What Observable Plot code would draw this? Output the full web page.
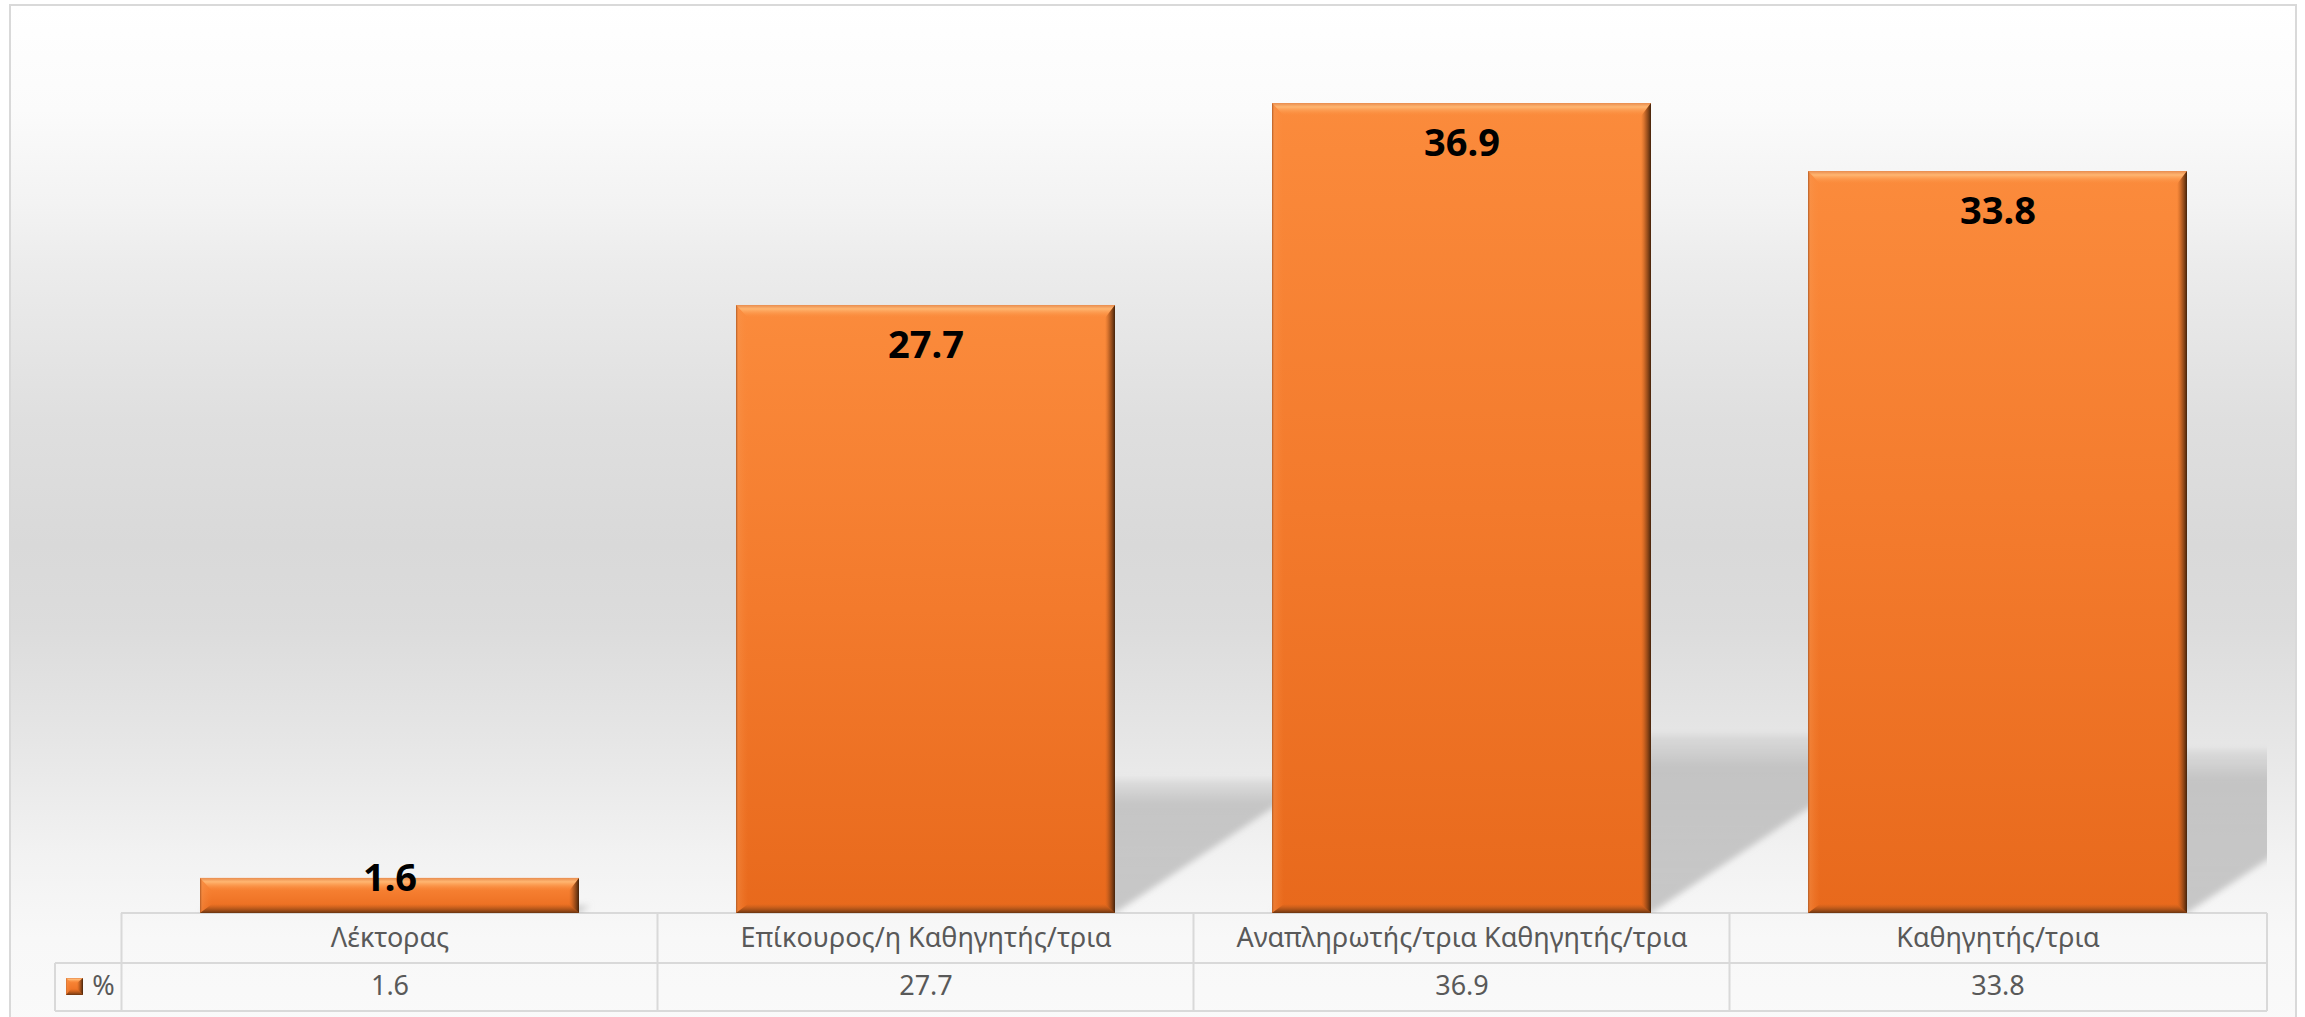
<!DOCTYPE html>
<html>
<head>
<meta charset="utf-8">
<script src="https://cdn.jsdelivr.net/npm/d3@7"></script>
<script src="https://cdn.jsdelivr.net/npm/@observablehq/plot@0.6"></script>
<style>
  html, body { margin: 0; padding: 0; background: #ffffff; }
  #wrap { position: relative; width: 2305px; height: 1017px; overflow: hidden; }
  #bg {
    position: absolute; left: 9px; top: 4px; width: 2288px; height: 1040px;
    box-sizing: border-box; border: 2px solid #d9d9d9;
    background: linear-gradient(to bottom, #ffffff 0%, #fbfbfb 10%, #f3f3f3 19%, #ececec 25%, #dfdfdf 40%, #d9d9d9 52%, #dcdcdc 60%, #e6e6e6 71%, #f2f2f2 82%, #f8f8f8 90%, #fafafa 100%);
  }
  #chart { position: absolute; left: 0; top: 0; }
</style>
</head>
<body>
<div id="wrap"><div id="bg"></div><div id="chart"></div></div>
<script>
// ---- data ----
const categories = ["Λέκτορας", "Επίκουρος/η Καθηγητής/τρια", "Αναπληρωτής/τρια Καθηγητής/τρια", "Καθηγητής/τρια"];
const values = [1.6, 27.7, 36.9, 33.8];
const seriesName = "%";
const yDomain = [0, 40];

const data = categories.map((c, i) => ({cat: c, value: values[i]}));
const fmt = d => d.value.toFixed(1);
const FONT = "'Noto Sans', 'Open Sans', sans-serif";

const plot = Plot.plot({
  width: 2305,
  height: 1017,
  marginLeft: 121,
  marginRight: 38,
  marginTop: 35,
  marginBottom: 104,
  x: {domain: categories, paddingInner: 0.292, paddingOuter: 0.146, axis: null},
  y: {domain: yDomain, axis: null},
  style: {background: "transparent", fontFamily: FONT, overflow: "visible"},
  marks: [
    // perspective shadows (reshaped below from the bar geometry)
    Plot.barY(data, {x: "cat", y: "value", fill: "#9a9a9a"}),
    // bars
    Plot.barY(data, {x: "cat", y: "value", fill: "url(#barGrad)"}),
    // data labels (inside end)
    Plot.text(data, {filter: d => d.value >= 4, x: "cat", y: "value", text: fmt, dy: 40,
      fontSize: 38, fontWeight: 700, fill: "#000000"}),
    Plot.text(data, {filter: d => d.value < 4, x: "cat", y: () => 0, text: fmt, dy: -35,
      fontSize: 38, fontWeight: 700, fill: "#000000"}),
    // data table: categories row
    Plot.text(categories, {x: d => d, frameAnchor: "bottom", lineAnchor: "middle", dy: 25, text: d => d,
      fontSize: 27, fill: "#595959"}),
    // data table: values row
    Plot.text(data, {x: "cat", frameAnchor: "bottom", lineAnchor: "middle", dy: 73, text: fmt,
      fontSize: 27, fill: "#595959"}),
    // data table: legend key text
    Plot.text([seriesName], {frameAnchor: "bottom-left", lineAnchor: "middle", textAnchor: "middle",
      dx: -18, dy: 73, text: d => d, fontSize: 27, fill: "#595959"})
  ]
});

document.getElementById("chart").appendChild(plot);

// ---- decoration built from the plot's own scales ----
const svg = d3.select(plot);
const xs = plot.scale("x");
const ys = plot.scale("y");
const frameL = Math.min(...xs.range), frameR = Math.max(...xs.range);
const frameT = Math.min(...ys.range), frameB = Math.max(...ys.range);
const step = xs.step || (frameR - frameL) / categories.length;
const bandwidth = xs.bandwidth || step * (1 - 0.292);

const defs = svg.insert("defs", ":first-child");
function lin(id, x1, y1, x2, y2, stops) {
  const g = defs.append("linearGradient").attr("id", id)
    .attr("x1", x1).attr("y1", y1).attr("x2", x2).attr("y2", y2);
  stops.forEach(([o, c, op]) => g.append("stop").attr("offset", o).attr("stop-color", c).attr("stop-opacity", op));
}
lin("barGrad", 0, 0, 0, 1, [[0, "#fb8b3c", 1], [0.5, "#f37a2c", 1], [1, "#e8691c", 1]]);
lin("bevTop", 0, 0, 0, 1, [[0, "#e98d4f", 1], [0.3, "#ffb671", 1], [1, "#fb8b3c", 0]]);
lin("bevRight", 0, 0, 1, 0, [[0, "#b85a1c", 0], [0.5, "#8a4416", 0.65], [1, "#43220a", 1]]);
lin("bevBottom", 0, 0, 0, 1, [[0, "#b85a1c", 0], [0.5, "#9a4c18", 0.6], [1, "#6a3410", 1]]);
lin("bevLeft", 0, 0, 1, 0, [[0, "#a85420", 0.9], [0.2, "#f79a55", 0.35], [1, "#fb8b3c", 0]]);
lin("shadowGrad", 0, 0, 0, 1, [[0, "#b5b5b5", 0.25], [0.18, "#a5a5a5", 0.55], [1, "#a8a8a8", 0.6]]);
defs.append("filter").attr("id", "soft").attr("x", "-10%").attr("y", "-10%").attr("width", "120%").attr("height", "120%")
  .append("feGaussianBlur").attr("stdDeviation", 3);
defs.append("clipPath").attr("id", "frameClip").append("rect")
  .attr("x", frameL).attr("y", frameT).attr("width", frameR - frameL).attr("height", frameB - frameT);

const barGroups = svg.selectAll('g[aria-label="bar"]').nodes();

// shadows: skewed parallelograms from each bar's rect
const shadowG = d3.select(barGroups[0]).attr("clip-path", "url(#frameClip)");
const shadowRects = shadowG.selectAll("rect").nodes();
const shadowInner = shadowG.append("g").attr("filter", "url(#soft)");
shadowRects.forEach(node => {
  const x = +node.getAttribute("x"), y = +node.getAttribute("y");
  const w = +node.getAttribute("width"), h = +node.getAttribute("height");
  const base = y + h, sh = 0.22 * h, off = 1.5 * sh;
  shadowInner.append("polygon")
    .attr("points", [[x, base], [x + w, base], [x + w + off, base - sh], [x + off, base - sh]].join(" "))
    .attr("fill", "url(#shadowGrad)");
  node.remove();
});

// bevel on a rect
function bevel(g, x, y, w, h, bt, br, bb, bl) {
  const P = pts => pts.map(p => p.join(",")).join(" ");
  g.append("polygon").attr("points", P([[x, y], [x + w, y], [x + w - br, y + bt], [x + bl, y + bt]])).attr("fill", "url(#bevTop)");
  g.append("polygon").attr("points", P([[x, y], [x, y + h], [x + bl, y + h - bb], [x + bl, y + bt]])).attr("fill", "url(#bevLeft)");
  g.append("polygon").attr("points", P([[x, y + h], [x + w, y + h], [x + w - br, y + h - bb], [x + bl, y + h - bb]])).attr("fill", "url(#bevBottom)");
  g.append("polygon").attr("points", P([[x + w, y], [x + w, y + h], [x + w - br, y + h - bb], [x + w - br, y + bt]])).attr("fill", "url(#bevRight)");
}
const mainG = d3.select(barGroups[1]);
const mainRects = mainG.selectAll("rect").nodes();
const bevG = mainG.append("g");
mainRects.forEach(node => {
  const x = +node.getAttribute("x"), y = +node.getAttribute("y");
  const w = +node.getAttribute("width"), h = +node.getAttribute("height");
  bevel(bevG, x, y, w, h, 13, 10, 9, 12);
});

// data table grid
const rowH1 = 50, rowH2 = 98, legendW = 66;
const tableG = svg.insert("g", 'g[aria-label="bar"]').attr("stroke", "#d9d9d9").attr("stroke-width", 2);
const bounds = categories.map(c => xs.apply(c) - (step - bandwidth) / 2).concat([frameR]);
const line = (x1, y1, x2, y2) => tableG.append("line").attr("x1", x1).attr("y1", y1).attr("x2", x2).attr("y2", y2);
line(frameL, frameB, frameR, frameB);
line(frameL - legendW, frameB + rowH1, frameR, frameB + rowH1);
line(frameL - legendW, frameB + rowH2, frameR, frameB + rowH2);
bounds.forEach(bx => line(bx, frameB, bx, frameB + rowH2));
line(frameL - legendW, frameB + rowH1, frameL - legendW, frameB + rowH2);

// legend key in the table
const keyG = svg.append("g");
const kx = frameL - 55, ky = frameB + 65, ks = 17;
keyG.append("rect").attr("x", kx).attr("y", ky).attr("width", ks).attr("height", ks).attr("fill", "url(#barGrad)");
bevel(keyG, kx, ky, ks, ks, 5, 6, 6, 5);
</script>
</body>
</html>
